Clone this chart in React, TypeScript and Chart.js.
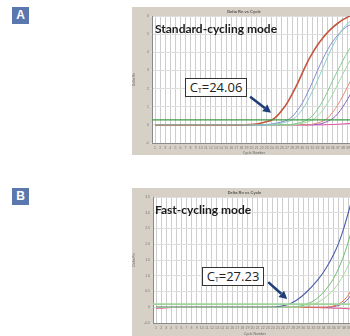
import React, { useEffect, useRef } from "react";
import { Chart, registerables } from "chart.js";
Chart.register(...registerables);

const cycles = [1, 2, 3, 4, 5, 6, 7, 8, 9, 10, 11, 12, 13, 14, 15, 16, 17, 18, 19, 20, 21, 22, 23, 24, 25, 26, 27, 28, 29, 30, 31, 32, 33, 34, 35, 36, 37, 38, 39, 40];

// Panel A: standard cycling
const yTicksA = [-1, 0, 1, 2, 3, 4, 5, 6];
const thresholdA = 0.28;
const ctA = 24.06;
const redA = [0, 0, 0, 0, 0, 0, 0, 0, 0, 0, 0, 0, 0, 0, 0, 0, 0, 0, 0.01, 0.02, 0.05, 0.1, 0.18, 0.27, 0.48, 0.8, 1.2, 1.7, 2.25, 2.85, 3.45, 3.95, 4.4, 4.78, 5.1, 5.37, 5.6, 5.8, 5.95, 6.08];
const blueA = [0, 0, 0, 0, 0, 0, 0, 0, 0, 0, 0, 0, 0, 0, 0, 0, 0, 0, 0, 0, 0, 0, 0.02, 0.05, 0.1, 0.17, 0.26, 0.45, 0.78, 1.2, 1.75, 2.35, 3.0, 3.6, 4.15, 4.6, 4.95, 5.25, 5.45, 5.6];
const tealA = [0, 0, 0, 0, 0, 0, 0, 0, 0, 0, 0, 0, 0, 0, 0, 0, 0, 0, 0, 0, 0, 0, 0, 0.02, 0.05, 0.1, 0.17, 0.28, 0.5, 0.85, 1.3, 1.85, 2.45, 3.1, 3.75, 4.35, 4.85, 5.3, 5.6, 5.85];
const green1A = [0, 0, 0, 0, 0, 0, 0, 0, 0, 0, 0, 0, 0, 0, 0, 0, 0, 0, 0, 0, 0, 0, 0, 0, 0, 0, 0, 0.03, 0.08, 0.16, 0.28, 0.5, 0.85, 1.3, 1.85, 2.45, 3.0, 3.55, 4.05, 4.45];
const green2A = [0, 0, 0, 0, 0, 0, 0, 0, 0, 0, 0, 0, 0, 0, 0, 0, 0, 0, 0, 0, 0, 0, 0, 0, 0, 0, 0, 0, 0.03, 0.08, 0.16, 0.28, 0.48, 0.8, 1.2, 1.7, 2.25, 2.8, 3.35, 3.8];
const salmonA = [0, 0, 0, 0, 0, 0, 0, 0, 0, 0, 0, 0, 0, 0, 0, 0, 0, 0, 0, 0, 0, 0, 0, 0, 0, 0, 0, 0, 0, 0, 0, 0.03, 0.1, 0.2, 0.38, 0.7, 1.1, 1.6, 2.15, 2.7];
const purpleA = [0, 0, 0, 0, 0, 0, 0, 0, 0, 0, 0, 0, 0, 0, 0, 0, 0, 0, 0, 0, 0, 0, 0, 0, 0, 0, 0, 0, 0, 0, 0, 0, 0.03, 0.08, 0.2, 0.35, 0.62, 1.0, 1.45, 1.95];
const magentaA = [0, 0, 0, 0, 0, 0, 0, 0, 0, 0, 0, 0, 0, 0, 0, 0, 0, 0, 0, 0, 0, 0, 0, 0, 0, 0, 0, 0, 0, 0, 0, 0, 0, 0, 0.01, 0.02, 0.03, 0.05, 0.07, 0.09];

// Panel B: fast cycling
const yTicksB = [-0.5, 0, 0.5, 1, 1.5, 2, 2.5, 3, 3.5];
const thresholdB = 0.1;
const ctB = 27.23;
const blueB = [0, 0, 0, 0, 0, 0, 0, 0, 0, 0, 0, 0, 0, 0, 0, 0, 0, 0, 0, 0, 0, 0, 0, 0, 0.02, 0.05, 0.09, 0.16, 0.26, 0.39, 0.54, 0.71, 0.9, 1.12, 1.38, 1.68, 2.05, 2.52, 3.08, 3.65];
const green1B = [0, 0, 0, 0, 0, 0, 0, 0, 0, 0, 0, 0, 0, 0, 0, 0, 0, 0, 0, 0, 0, 0, 0, 0, 0, 0, 0, 0, 0.02, 0.06, 0.12, 0.2, 0.32, 0.48, 0.68, 0.92, 1.25, 1.65, 2.15, 2.7];
const green2B = [0, 0, 0, 0, 0, 0, 0, 0, 0, 0, 0, 0, 0, 0, 0, 0, 0, 0, 0, 0, 0, 0, 0, 0, 0, 0, 0, 0, 0, 0.02, 0.05, 0.1, 0.17, 0.27, 0.4, 0.56, 0.78, 1.05, 1.38, 1.75];
const orangeB = [0, 0, 0, 0, 0, 0, 0, 0, 0, 0, 0, 0, 0, 0, 0, 0, 0, 0, 0, 0, 0, 0, 0, 0, 0, 0, 0, 0, 0, 0, 0, 0, 0, 0, 0.01, 0.04, 0.1, 0.22, 0.42, 0.72];
const purpleB = [0, 0, 0, 0, 0, 0, 0, 0, 0, 0, 0, 0, 0, 0, 0, 0, 0, 0, 0, 0, 0, 0, 0, 0, 0, 0, 0, 0, 0, 0, 0, 0, 0, 0, 0, 0.02, 0.06, 0.14, 0.3, 0.55];
const magentaB = [-0.03, -0.03, -0.02, -0.01, 0, 0, 0, 0, 0, 0, 0, 0, 0, 0, 0, 0, 0, 0, 0, 0, 0, 0, 0, 0, 0, 0, 0, 0, 0, 0, 0, -0.01, -0.01, -0.02, -0.02, -0.03, -0.03, -0.04, -0.05, -0.06];

const xMin = 0.4;
const xMax = 40.5;

const pts = (vals: number[]) => vals.map((v, i) => ({ x: cycles[i], y: v }));

const line = (label: string, vals: number[], color: string, width = 1) => ({
  label,
  data: pts(vals),
  borderColor: color,
  borderWidth: width,
  pointRadius: 0,
  fill: false,
  tension: 0.4,
  cubicInterpolationMode: "monotone" as const,
});

const thresholdLine = (thr: number, color: string, width: number) => ({
  label: "Threshold",
  data: [
    { x: xMin, y: thr },
    { x: xMax, y: thr },
  ],
  borderColor: color,
  borderWidth: width,
  pointRadius: 0,
  fill: false,
});

const bgPlugin = {
  id: "plotBg",
  beforeDraw(chart: any) {
    const { ctx, chartArea } = chart;
    ctx.save();
    ctx.fillStyle = "#ffffff";
    ctx.fillRect(chartArea.left, chartArea.top, chartArea.right - chartArea.left, chartArea.bottom - chartArea.top);
    ctx.restore();
  },
};

const arrowPlugin = {
  id: "ctArrow",
  afterDatasetsDraw(chart: any, _args: any, opts: any) {
    if (!opts || opts.ct == null) return;
    const { ctx } = chart;
    const xs = chart.scales.x;
    const ys = chart.scales.y;
    const tipX = xs.getPixelForValue(opts.ct) + opts.dx;
    const tipY = ys.getPixelForValue(opts.thr) + opts.dy;
    const tailX = tipX + opts.tx;
    const tailY = tipY + opts.ty;
    const ang = Math.atan2(tipY - tailY, tipX - tailX);
    const head = 8;
    const hw = 4.2;
    const bx = tipX - head * Math.cos(ang);
    const by = tipY - head * Math.sin(ang);
    ctx.save();
    ctx.strokeStyle = "#1d3e78";
    ctx.fillStyle = "#1d3e78";
    ctx.lineWidth = 2.6;
    ctx.beginPath();
    ctx.moveTo(tailX, tailY);
    ctx.lineTo(bx, by);
    ctx.stroke();
    ctx.beginPath();
    ctx.moveTo(tipX, tipY);
    ctx.lineTo(bx + hw * Math.sin(ang), by - hw * Math.cos(ang));
    ctx.lineTo(bx - hw * Math.sin(ang), by + hw * Math.cos(ang));
    ctx.closePath();
    ctx.fill();
    ctx.restore();
  },
};

const tinyFont = { family: "Arial, 'Liberation Sans', sans-serif", size: 3.5 };

function makeConfig(datasets: any[], yTicks: number[], yWidth: number, xHeight: number, arrow: any) {
  return {
    type: "line" as const,
    data: { datasets },
    plugins: [bgPlugin, arrowPlugin],
    options: {
      animation: false as const,
      responsive: false,
      maintainAspectRatio: false,
      events: [],
      layout: { padding: 0 },
      plugins: {
        legend: { display: false },
        tooltip: { enabled: false },
        title: {
          display: true,
          text: "Delta Rn vs Cycle",
          color: "#555",
          font: { family: "Arial, 'Liberation Sans', sans-serif", size: 4, lineHeight: 1 },
          padding: { top: 2.5, bottom: 2.5 },
        },
        ctArrow: arrow,
      },
      scales: {
        x: {
          type: "linear" as const,
          min: xMin,
          max: xMax,
          afterBuildTicks: (s: any) => {
            s.ticks = cycles.map((v) => ({ value: v }));
          },
          afterFit: (s: any) => {
            s.height = xHeight;
          },
          ticks: { font: tinyFont, color: "#777", padding: 1, maxRotation: 0, minRotation: 0, autoSkip: false },
          grid: { color: "#cdcdcd", lineWidth: 1, tickLength: 2 },
          border: { color: "#8a8a8a" },
          title: { display: true, text: "Cycle Number", color: "#666", font: tinyFont, padding: 0 },
        },
        y: {
          type: "linear" as const,
          min: yTicks[0],
          max: yTicks[yTicks.length - 1],
          afterBuildTicks: (s: any) => {
            s.ticks = yTicks.map((v) => ({ value: v }));
          },
          afterFit: (s: any) => {
            s.width = yWidth;
          },
          ticks: { font: tinyFont, color: "#777", padding: 1 },
          grid: { color: "#dedede", lineWidth: 1, tickLength: 2 },
          border: { color: "#8a8a8a" },
          title: { display: true, text: "Delta Rn", color: "#666", font: tinyFont, padding: 0 },
        },
      },
    },
  };
}

function PlotCanvas({ config, style }: { config: any; style: React.CSSProperties }) {
  const ref = useRef<HTMLCanvasElement | null>(null);
  useEffect(() => {
    if (!ref.current) return;
    const chart = new Chart(ref.current, config);
    return () => chart.destroy();
  }, [config]);
  return (
    <canvas
      ref={ref}
      width={style.width as number}
      height={style.height as number}
      style={{ position: "absolute", display: "block", ...style }}
    />
  );
}

// In Chart.js the first dataset is painted on top.
const configA = makeConfig(
  [
    thresholdLine(thresholdA, "#3f9a45", 1.2),
    line("Teal", tealA, "#86d2c6"),
    line("Red", redA, "#c4553f", 1.6),
    line("Blue", blueA, "#8a88d6"),
    line("Green 1", green1A, "#7cce8a"),
    line("Green 2", green2A, "#a6dca6"),
    line("Salmon", salmonA, "#f08878"),
    line("Purple", purpleA, "#8a5cc6"),
    line("Magenta", magentaA, "#e04fa6"),
  ],
  yTicksA,
  20,
  12,
  { ct: ctA, thr: thresholdA, dx: -1, dy: -7, tx: -21, ty: -16 }
);

const configB = makeConfig(
  [
    thresholdLine(thresholdB, "#9ed69a", 1.8),
    line("Green 2", green2B, "#a8dc98"),
    line("Blue", blueB, "#4a5ca8", 1.1),
    line("Green 1", green1B, "#6cc070"),
    line("Orange", orangeB, "#f07048"),
    line("Purple", purpleB, "#8060c4"),
    line("Magenta", magentaB, "#e0508c"),
  ],
  yTicksB,
  21,
  13,
  { ct: ctB, thr: thresholdB, dx: -2, dy: -5, tx: -19, ty: -17 }
);

const panelLetter: React.CSSProperties = {
  position: "absolute",
  left: 12,
  width: 17,
  height: 17,
  background: "#5a78ad",
  color: "#fff",
  fontFamily: "'Liberation Sans', Arial, sans-serif",
  fontWeight: 700,
  fontSize: 12,
  lineHeight: "17px",
  textAlign: "center",
};

const modeTitle: React.CSSProperties = {
  position: "absolute",
  left: 155,
  fontFamily: "Lato, 'Open Sans', sans-serif",
  fontWeight: 700,
  fontSize: 12,
  color: "#1a1a1a",
  whiteSpace: "nowrap",
  lineHeight: "15px",
};

const ctBox: React.CSSProperties = {
  position: "absolute",
  boxSizing: "border-box",
  width: 62,
  height: 19,
  border: "1px solid #333",
  background: "#fff",
  fontFamily: "'Open Sans', Lato, sans-serif",
  fontSize: 13,
  color: "#222",
  display: "flex",
  alignItems: "center",
  justifyContent: "center",
  whiteSpace: "nowrap",
  lineHeight: "17px",
};

export default function App() {
  return (
    <div style={{ position: "absolute", left: 0, top: 0, width: 350, height: 336, overflow: "hidden", background: "#fff" }}>
      <div style={{ ...panelLetter, top: 7 }}>A</div>
      <div style={{ ...panelLetter, top: 188 }}>B</div>

      <div style={{ position: "absolute", left: 132, top: 7, width: 240, height: 148, background: "#d6d0c6" }} />
      <PlotCanvas config={configA} style={{ left: 132, top: 7, width: 224, height: 148 }} />

      <div style={{ position: "absolute", left: 132, top: 188, width: 240, height: 160, background: "#d6d0c6" }} />
      <PlotCanvas config={configB} style={{ left: 132, top: 188, width: 225, height: 148 }} />

      <div style={{ ...modeTitle, top: 21 }}>Standard-cycling mode</div>
      <div style={{ ...modeTitle, top: 202 }}>Fast-cycling mode</div>

      <div style={{ ...ctBox, left: 185, top: 78 }}>
        <span>C</span>
        <span style={{ fontSize: 7, position: "relative", top: 3 }}>T</span>
        <span>=24.06</span>
      </div>
      <div style={{ ...ctBox, left: 202, top: 267 }}>
        <span>C</span>
        <span style={{ fontSize: 7, position: "relative", top: 3 }}>T</span>
        <span>=27.23</span>
      </div>
    </div>
  );
}
